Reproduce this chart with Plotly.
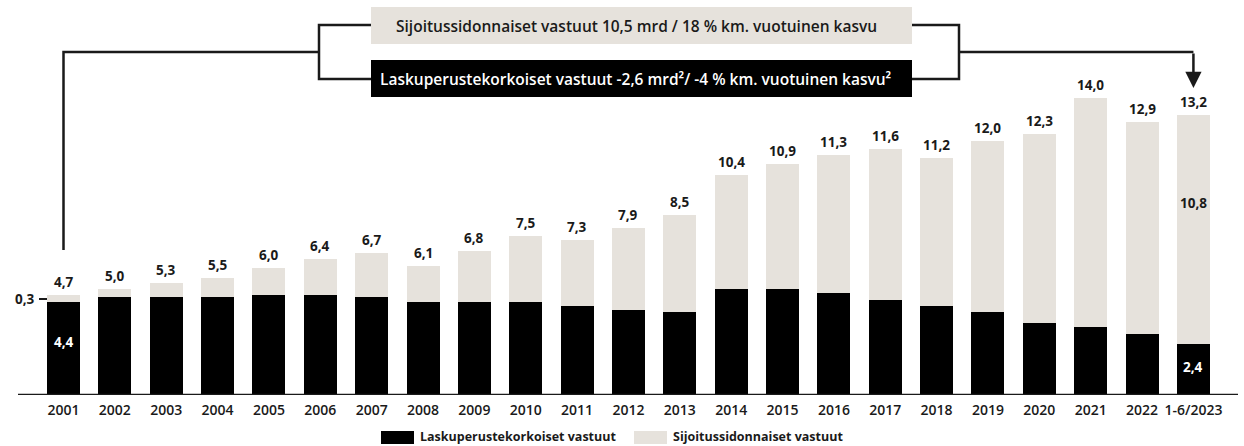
import plotly.graph_objects as go

# Data (mrd €)
years = ['2001', '2002', '2003', '2004', '2005', '2006', '2007', '2008', '2009', '2010',
         '2011', '2012', '2013', '2014', '2015', '2016', '2017', '2018', '2019', '2020',
         '2021', '2022', '1-6/2023']
laskuperuste = [4.4, 4.6, 4.6, 4.6, 4.7, 4.7, 4.6, 4.4, 4.4, 4.4,
                4.2, 4.0, 3.9, 5.0, 5.0, 4.8, 4.5, 4.2, 3.9, 3.4,
                3.2, 2.9, 2.4]
sijoitus = [0.3, 0.4, 0.7, 0.9, 1.3, 1.7, 2.1, 1.7, 2.4, 3.1,
            3.1, 3.9, 4.6, 5.4, 5.9, 6.5, 7.1, 7.0, 8.1, 8.9,
            10.8, 10.0, 10.8]
totals = [4.7, 5.0, 5.3, 5.5, 6.0, 6.4, 6.7, 6.1, 6.8, 7.5,
          7.3, 7.9, 8.5, 10.4, 10.9, 11.3, 11.6, 11.2, 12.0, 12.3,
          14.0, 12.9, 13.2]
legend_names = ['Laskuperustekorkoiset vastuut', 'Sijoitussidonnaiset vastuut']

BLACK = '#000000'
BEIGE = '#e6e2dc'
INK = '#1a1a1a'
FONT = 'Open Sans'

W, H = 1244, 446
BASE = 395          # pixel row of the baseline
PX_PER_UNIT = 21.2  # vertical scale
X0, STEP = 63.5, 51.36


def fmt(v):
    return f'{v:.1f}'.replace('.', ',')


def xd(px):
    # pixel column -> x data coordinate
    return (px - X0) / STEP


def yd(py):
    # pixel row -> y data coordinate
    return (BASE - py) / PX_PER_UNIT


def yp(py):
    # pixel row -> paper y (plot area spans rows 0..BASE)
    return (BASE - py) / BASE


fig = go.Figure()
fig.add_trace(go.Bar(x=list(range(len(years))), y=laskuperuste, marker_color=BLACK,
                     marker_line_width=0, name=legend_names[0], hoverinfo='skip'))
fig.add_trace(go.Bar(x=list(range(len(years))), y=sijoitus, marker_color=BEIGE,
                     marker_line_width=0, name=legend_names[1], hoverinfo='skip'))

annotations = []
# total labels above bars
for i, t in enumerate(totals):
    annotations.append(dict(x=i, y=t, text=fmt(t), showarrow=False, yanchor='bottom',
                            yshift=2, font=dict(family=FONT, size=13.5, color=INK, weight=700)))

# inside labels
annotations += [
    dict(x=0, y=yd(342), text=fmt(laskuperuste[0]), showarrow=False,
         font=dict(family=FONT, size=13.5, color='white', weight=700)),
    dict(x=22, y=yd(367), text=fmt(laskuperuste[-1]), showarrow=False,
         font=dict(family=FONT, size=13.5, color='white', weight=700)),
    dict(x=22, y=yd(203), text=fmt(sijoitus[-1]), showarrow=False,
         font=dict(family=FONT, size=13.5, color=INK, weight=700)),
    dict(x=xd(37), y=yd(299), text=fmt(sijoitus[0]), showarrow=False, xanchor='right',
         font=dict(family=FONT, size=13.5, color=INK, weight=700)),
]

# boxes text
annotations += [
    dict(x=xd(636), y=yd(25.5), text='Sijoitussidonnaiset vastuut 10,5 mrd / 18 % km. vuotuinen kasvu',
         showarrow=False, font=dict(family=FONT, size=15.5, color=INK, weight=600)),
    dict(x=xd(636), y=yd(78.5), text='Laskuperustekorkoiset vastuut -2,6 mrd²/ -4 % km. vuotuinen kasvu²',
         showarrow=False, font=dict(family=FONT, size=15.5, color='white', weight=600)),
]

# arrow down to the last bar
annotations.append(dict(x=22, y=yd(88), ax=0, ay=-36, showarrow=True, arrowhead=2,
                        arrowsize=1.3, arrowwidth=2.5, arrowcolor=INK, text=''))

# legend (manual, below the plot area in paper coordinates)
annotations += [
    dict(xref='paper', yref='paper', x=418 / W, y=yp(436), text=legend_names[0], showarrow=False,
         xanchor='left', yanchor='middle', font=dict(family=FONT, size=12.5, color=INK, weight=700)),
    dict(xref='paper', yref='paper', x=671 / W, y=yp(436), text=legend_names[1], showarrow=False,
         xanchor='left', yanchor='middle', font=dict(family=FONT, size=12.5, color=INK, weight=700)),
]

line = dict(color=INK, width=2.5)
shapes = [
    # baseline
    dict(type='line', x0=xd(18), x1=xd(1238), y0=0, y1=0, line=line),
    # 0,3 dash
    dict(type='line', x0=xd(39), x1=xd(47), y0=yd(299), y1=yd(299), line=dict(color=INK, width=2)),
    # boxes
    dict(type='rect', x0=xd(371), x1=xd(912), y0=yd(7), y1=yd(44), fillcolor=BEIGE, line_width=0),
    dict(type='rect', x0=xd(371), x1=xd(912), y0=yd(60), y1=yd(97), fillcolor=BLACK, line_width=0),
    # left bracket
    dict(type='path', path=f'M 0,{yd(250)} L 0,{yd(52)} L {xd(319)},{yd(52)}', line=line),
    dict(type='path', path=f'M {xd(371)},{yd(25)} L {xd(319)},{yd(25)} L {xd(319)},{yd(79)} L {xd(371)},{yd(79)}',
         line=line),
    # right bracket
    dict(type='path', path=f'M {xd(912)},{yd(25)} L {xd(959)},{yd(25)} L {xd(959)},{yd(79)} L {xd(912)},{yd(79)}',
         line=line),
    dict(type='path', path=f'M {xd(959)},{yd(52)} L 22,{yd(52)}', line=line),
    # legend swatches
    dict(type='rect', xref='paper', yref='paper', x0=381 / W, x1=414 / W, y0=yp(431), y1=yp(444),
         fillcolor=BLACK, line_width=0),
    dict(type='rect', xref='paper', yref='paper', x0=634 / W, x1=667 / W, y0=yp(431), y1=yp(444),
         fillcolor=BEIGE, line_width=0),
]

fig.update_layout(
    barmode='stack',
    bargap=0.357,
    width=W,
    height=H,
    margin=dict(l=0, r=0, t=0, b=H - BASE),
    plot_bgcolor='white',
    paper_bgcolor='white',
    showlegend=False,
    annotations=annotations,
    shapes=shapes,
    xaxis=dict(range=[xd(0), xd(W)], tickvals=list(range(len(years))), ticktext=years,
               showgrid=False, zeroline=False, showline=False, ticks='',
               tickfont=dict(family=FONT, size=14, color=INK, weight=600),
               ticklabelstandoff=5),
    yaxis=dict(range=[0, yd(0)], visible=False, showgrid=False, zeroline=False),
)

fig.write_html('out.html', config={'displayModeBar': False},
               post_script="document.body.style.margin='0';")
